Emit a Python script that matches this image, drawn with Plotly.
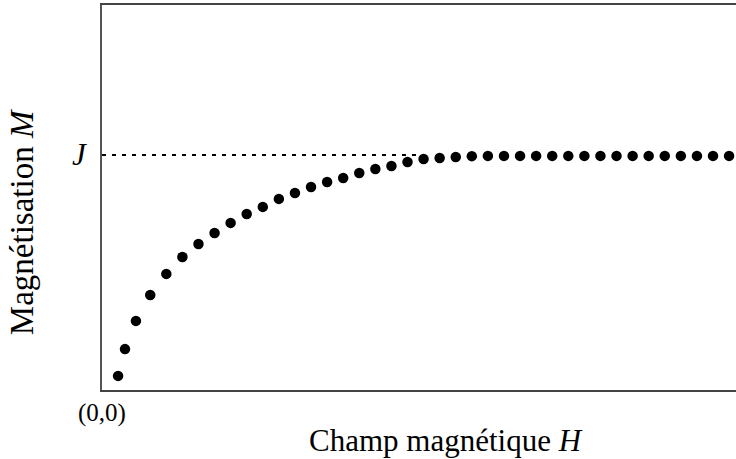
import plotly.graph_objects as go

# champ H (unités arbitraires) et aimantation M (en unités de J)
H = [1.0, 1.43, 2.11] + list(range(3, 40))
M = [
    0.06, 0.174, 0.294, 0.404, 0.494, 0.566, 0.621, 0.668, 0.711, 0.749,
    0.779, 0.813, 0.838, 0.864, 0.885, 0.902, 0.923, 0.940, 0.953, 0.970,
    0.983, 0.987, 0.991, 0.995, 0.996, 0.996, 0.996, 0.996, 0.996, 0.996,
    0.996, 0.996, 0.996, 0.996, 0.996, 0.996, 0.996, 0.996, 0.996, 0.996,
]
J = 1.0
J_LINE_END = 20.0

FONT = "Liberation Serif"

fig = go.Figure()
fig.add_trace(go.Scatter(
    x=[0, J_LINE_END], y=[J, J], mode="lines",
    line=dict(color="black", width=2, dash="4px,6px"),
    hoverinfo="skip",
))
fig.add_trace(go.Scatter(
    x=H, y=M, mode="markers",
    marker=dict(color="black", size=10.5),
))

fig.update_layout(
    width=736, height=459,
    margin=dict(l=102, r=0, t=5, b=69, autoexpand=False),
    plot_bgcolor="white", paper_bgcolor="white",
    showlegend=False,
    font=dict(family=FONT, size=31, color="black"),
    xaxis=dict(
        range=[0, 39.43], showgrid=False, zeroline=False, showticklabels=False,
        ticks="", showline=True, linecolor="#444", linewidth=2, mirror=True,
    ),
    yaxis=dict(
        range=[0, 1.638], showgrid=False, zeroline=False, showticklabels=False,
        ticks="", showline=True, linecolor="#555", linewidth=2,
    ),
    annotations=[
        dict(text="<i>J</i>", x=0, xref="paper", y=J, yref="y",
             xanchor="right", yanchor="middle", xshift=-13, showarrow=False),
        dict(text="(0,0)", x=0, xref="paper", y=0, yref="y",
             xanchor="center", yanchor="middle", yshift=-23, showarrow=False,
             font=dict(size=25)),
        dict(text="Champ magnétique <i>H</i>", x=0.3233, xref="paper", y=0, yref="y",
             xanchor="left", yanchor="middle", yshift=-50, showarrow=False),
        dict(text="Magnétisation <i>M</i>", x=0, xref="paper", y=0.436, yref="paper",
             xanchor="center", yanchor="middle", xshift=-80, textangle=-90,
             showarrow=False, font=dict(size=33)),
    ],
)

# la page a une marge par défaut de 8 px : on la retire
fig.write_html(
    "out.html",
    config={"displayModeBar": False},
    post_script="document.body.style.margin = '0';",
)
